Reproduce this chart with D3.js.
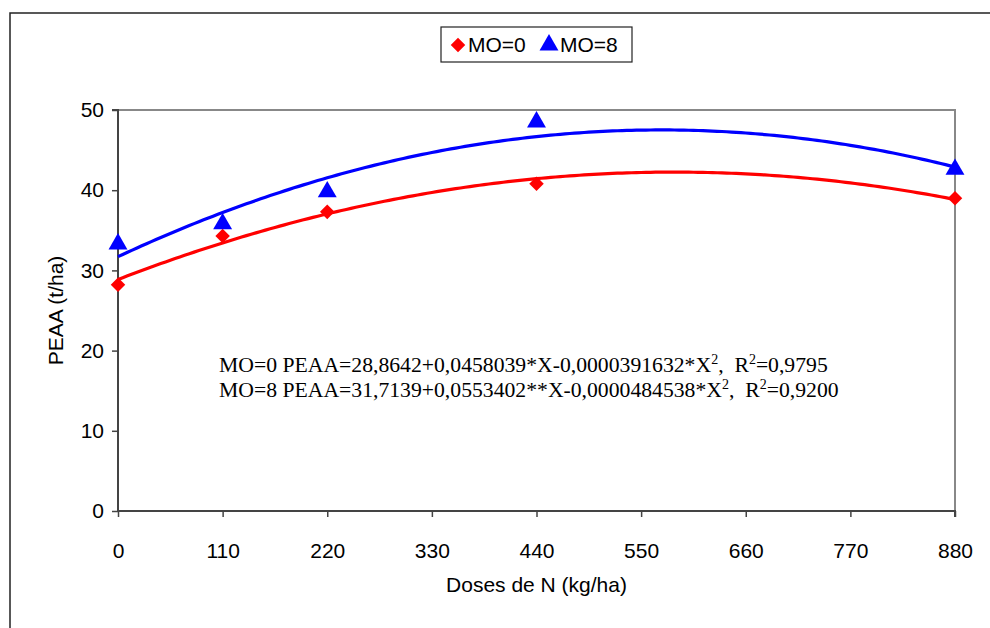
<!DOCTYPE html>
<html><head><meta charset="utf-8">
<script src="https://cdn.jsdelivr.net/npm/d3@7"></script>
<style>body{margin:0;background:#fff}svg{display:block}</style>
</head><body>
<svg id="c" width="990" height="628"></svg>
<script>
const doses = [0, 110, 220, 440, 880];
const mo0 = [28.2, 34.3, 37.3, 40.8, 39.0];
const mo8 = [33.3, 35.8, 39.8, 48.5, 42.6];
const xTicks = [0, 110, 220, 330, 440, 550, 660, 770, 880];
const yTicks = [0, 10, 20, 30, 40, 50];
const coef0 = [28.8642, 0.0458039, -0.0000391632];
const coef8 = [31.7139, 0.0553402, -0.0000484538];
const seriesNames = ["MO=0", "MO=8"];

const SANS = "Liberation Sans, Arial, sans-serif";
const svg = d3.select("#c");
const L = 118, R = 955, T = 110, B = 511;
const x = d3.scaleLinear().domain([0, 880]).range([L, R]);
const y = d3.scaleLinear().domain([0, 50]).range([B, T]);

// outer frame
svg.append("rect").attr("x", 10).attr("y", 13).attr("width", 1000).attr("height", 700)
  .attr("fill", "none").attr("stroke", "#222").attr("stroke-width", 1.5);

// plot border top/right gray
svg.append("path").attr("d", `M${L},${T}H${R}V${B}`).attr("fill", "none")
  .attr("stroke", "#888").attr("stroke-width", 2);

// axes
const ya = svg.append("g").attr("transform", `translate(${L},0)`)
  .call(d3.axisLeft(y).tickValues(yTicks).tickSize(6).tickPadding(8).tickFormat(d3.format("d")));
const xa = svg.append("g").attr("transform", `translate(0,${B})`)
  .call(d3.axisBottom(x).tickValues(xTicks).tickSize(6).tickPadding(26).tickFormat(d3.format("d")));
[ya, xa].forEach(g => {
  g.attr("font-size", 21).attr("font-family", SANS);
  g.select(".domain").attr("stroke", "#444").attr("stroke-width", 2);
  g.selectAll(".tick line").attr("stroke", "#444").attr("stroke-width", 1.5);
  g.selectAll("text").attr("font-family", SANS).attr("font-size", 21).attr("fill", "#000");
});
ya.select(".domain").attr("d", `M-6,${T}H0V${B}`);
xa.select(".domain").attr("d", `M${L},0H${R}V6`);

// axis titles
svg.append("text").attr("x", (L + R) / 2).attr("y", 592).attr("text-anchor", "middle")
  .attr("font-family", SANS).attr("font-size", 21)
  .text("Doses de N (kg/ha)");
svg.append("text").attr("transform", `translate(63,${(T + B) / 2}) rotate(-90)`)
  .attr("text-anchor", "middle")
  .attr("font-family", SANS).attr("font-size", 21)
  .text("PEAA (t/ha)");

// trend curves
const xs = d3.range(0, 881, 5);
const line = d3.line().x(d => x(d[0])).y(d => y(d[1]));
function q(c, v) { return c[0] + c[1] * v + c[2] * v * v; }
svg.append("path").attr("d", line(xs.map(v => [v, q(coef0, v)])))
  .attr("fill", "none").attr("stroke", "#ff0000").attr("stroke-width", 3.2);
svg.append("path").attr("d", line(xs.map(v => [v, q(coef8, v)])))
  .attr("fill", "none").attr("stroke", "#0000ff").attr("stroke-width", 3.2);

// markers
const diamond = d3.symbol().type(d3.symbolDiamond2).size(135);
const tri = d3.symbol().type(d3.symbolTriangle).size(155);
svg.selectAll(".m0").data(doses).enter().append("path")
  .attr("transform", (d, i) => `translate(${x(d)},${y(mo0[i])})`)
  .attr("d", diamond).attr("fill", "#ff0000");
svg.selectAll(".m8").data(doses).enter().append("path")
  .attr("transform", (d, i) => `translate(${x(d)},${y(mo8[i])})`)
  .attr("d", tri).attr("fill", "#0000ff");

// legend
const lg = svg.append("g");
lg.append("rect").attr("x", 441).attr("y", 27).attr("width", 191).attr("height", 35)
  .attr("fill", "#fff").attr("stroke", "#222").attr("stroke-width", 1.2);
lg.append("path").attr("transform", "translate(458,45)").attr("d", diamond).attr("fill", "#ff0000");
lg.append("text").attr("x", 468).attr("y", 52).attr("font-family", SANS)
  .attr("font-size", 21).text(seriesNames[0]);
lg.append("path").attr("transform", "translate(549,45)").attr("d", tri).attr("fill", "#0000ff");
lg.append("text").attr("x", 560).attr("y", 52).attr("font-family", SANS)
  .attr("font-size", 21).text(seriesNames[1]);

// equations
const eqs = [
  ["MO=0 PEAA=28,8642+0,0458039*X-0,0000391632*X", "0,9795"],
  ["MO=8 PEAA=31,7139+0,0553402**X-0,0000484538*X", "0,9200"]
];
eqs.forEach((e, i) => {
  const t = svg.append("text").attr("x", 219).attr("y", 372 + i * 25)
    .attr("font-family", "Liberation Serif, Times New Roman, serif").attr("font-size", 21.7);
  t.append("tspan").text(e[0]);
  t.append("tspan").attr("dy", -8).attr("font-size", 14).text("2");
  t.append("tspan").attr("dy", 8).text(",\u00a0 R");
  t.append("tspan").attr("dy", -8).attr("font-size", 14).text("2");
  t.append("tspan").attr("dy", 8).text("=" + e[1]);
});
</script>
</body></html>
